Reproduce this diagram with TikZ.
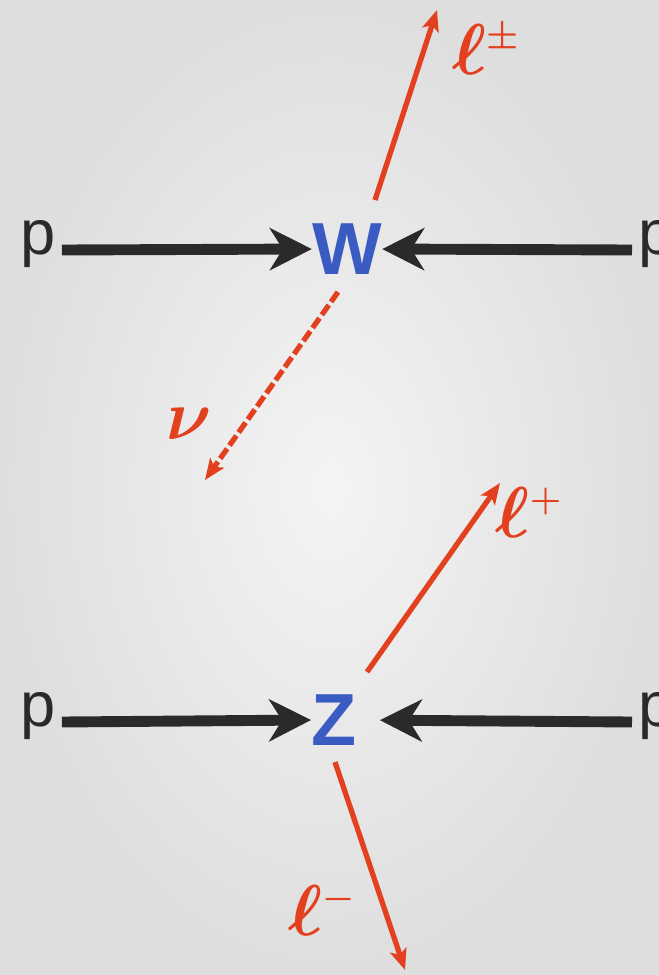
\documentclass[tikz,border=0pt]{standalone}
\usepackage{fix-cm}
\usepackage{fontspec}
\setmainfont{Liberation Sans}
\usetikzlibrary{arrows.meta}
\definecolor{beamgray}{HTML}{2A2A2A}
\definecolor{lepred}{HTML}{E2401F}
\definecolor{bosonblue}{HTML}{3A5BC2}
\definecolor{bginner}{HTML}{F4F4F4}
\definecolor{bgouter}{HTML}{DEDEDE}
\begin{document}
\begin{tikzpicture}[
            x=0.02cm, y=-0.02cm,
            proton/.style   ={font=\fontsize{36}{36}\selectfont, text=beamgray, inner ysep=0pt, inner xsep=0.12cm},
            boson/.style    ={font=\fontsize{42}{42}\selectfont\bfseries, text=bosonblue, inner sep=0pt},
            beam/.style     ={draw=beamgray, line width=6.2pt, -{Stealth[length=0.84cm, width=0.84cm, inset=0.26cm]}},
            lep/.style      ={draw=lepred, line width=3pt, -{Stealth[length=0.42cm, width=0.34cm, inset=0.1cm]}},
            nu/.style       ={lep, dash pattern=on 0.24cm off 0.08cm},
            lep label/.style={text=lepred, font=\fontsize{41}{41}\selectfont\boldmath, inner sep=0pt}
        ]
        \useasboundingbox (0,0) rectangle (659,975);
        \shade[inner color=bginner, outer color=bgouter] (0,0) rectangle (659,975);
        %% --- Panel (a): W production, lepton plus neutrino -------------------
        \begin{scope}[shift={(0,250)}]
            \node[proton, anchor=mid]      (pWL) at (38,0)  {p};
            \node[boson]                   (W)   at (347,-1) {W};
            \node[proton, anchor=mid west] (pWR) at (632,0) {p};
            \draw[beam] (pWL.mid east) -- (W.west);
            \draw[beam] (pWR.mid west) -- (W.east);
            \coordinate (lWa) at (375,-50);
            \coordinate (lWb) at (437,-240);
            \coordinate (nWa) at (338,42);
            \coordinate (nWb) at (205,230);
            \draw[lep] (lWa) -- (lWb);
            \draw[nu]  (nWa) -- (nWb);
            \node[lep label] (lW) at (486,-201) {$\ell^{\scriptscriptstyle\pm}$};
            \node[lep label, font=\fontsize{40}{40}\selectfont\boldmath] (nW) at (189,174) {$\nu$};
        \end{scope}
        %% --- Panel (b): Z production, lepton pair ----------------------------
        \begin{scope}[shift={(0,722)}]
            \node[proton, anchor=mid]      (pZL) at (38,0)  {p};
            \node[boson]                   (Z)   at (334,-2) {Z};
            \node[proton, anchor=mid west] (pZR) at (632,0) {p};
            \draw[beam] (pZL.mid east) -- (Z.west);
            \draw[beam, shorten >=0.46cm] (pZR.mid west) -- (Z.east);
            \coordinate (lPa) at (367,-50);
            \coordinate (lPb) at (500,-239);
            \coordinate (lMa) at (335,40);
            \coordinate (lMb) at (405,248);
            \draw[lep] (lPa) -- (lPb);
            \draw[lep] (lMa) -- (lMb);
            \node[lep label] (lP) at (529,-210) {$\ell^{\scriptscriptstyle +}$};
            \node[lep label] (lM) at (322,188)  {$\ell^{\scriptscriptstyle -}$};
        \end{scope}
    \end{tikzpicture}
\end{document}
